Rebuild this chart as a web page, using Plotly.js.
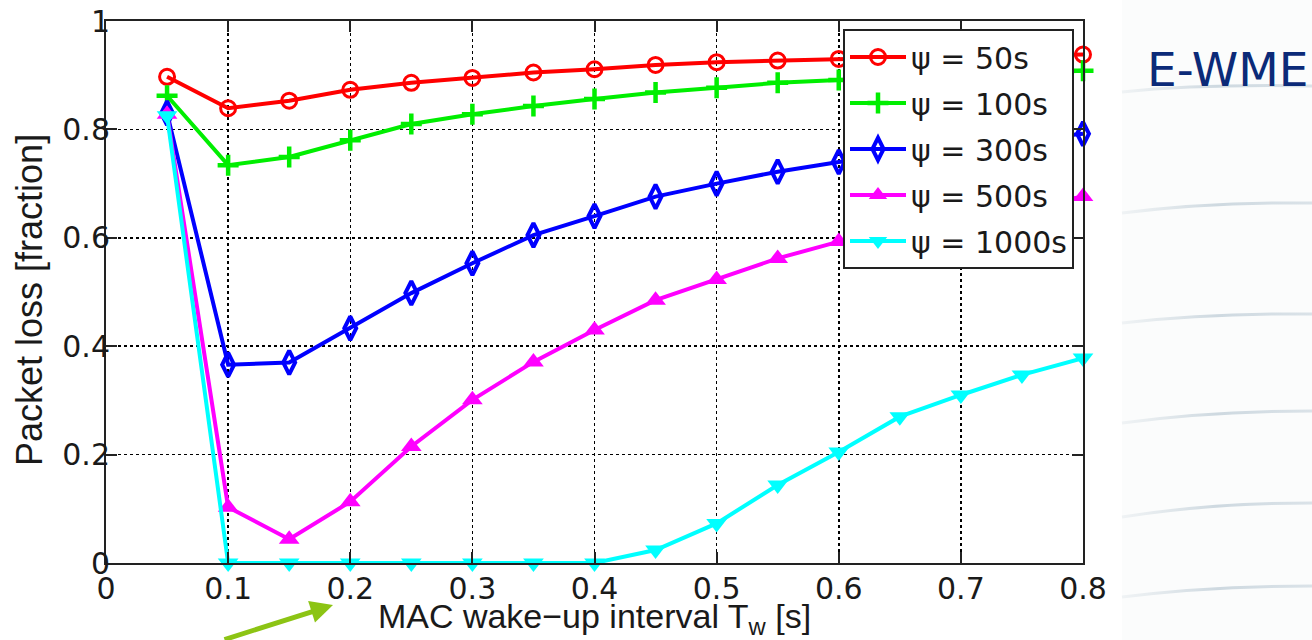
<!DOCTYPE html>
<html>
<head>
<meta charset="utf-8">
<script src="https://cdn.plot.ly/plotly-3.0.1.min.js"></script>
<style>
  html, body { margin: 0; padding: 0; background: #ffffff; }
  #wrap { position: relative; width: 1312px; height: 640px; overflow: hidden; }
  #bg { position: absolute; left: 0; top: 0; }
  #chart { position: absolute; left: 0; top: 0; width: 1312px; height: 640px; }
</style>
</head>
<body>
<div id="wrap">
<svg id="bg" width="1312" height="640">
  <defs>
    <linearGradient id="sw" x1="0" x2="1" y1="0" y2="0">
      <stop offset="0" stop-color="#d4dde3" stop-opacity="0.3"/>
      <stop offset="0.5" stop-color="#c9d5dd" stop-opacity="0.9"/>
      <stop offset="1" stop-color="#d2dce3" stop-opacity="0.8"/>
    </linearGradient>
  </defs>
  <rect x="1122" y="0" width="190" height="640" fill="#fbfcfc"/>
  <g fill="none" stroke="url(#sw)" stroke-width="3">
    <path d="M1122,92 Q1200,84 1312,86"/>
    <path d="M1122,213 Q1210,202 1312,203"/>
    <path d="M1122,323 Q1210,313 1312,314"/>
    <path d="M1122,423 Q1210,411 1312,411"/>
    <path d="M1122,517 Q1210,503 1312,503"/>
    <path d="M1122,597 Q1210,586 1312,586"/>
  </g>
</svg>
<div id="chart"></div>
</div>
<script>
const xVals = [0.05, 0.1, 0.15, 0.2, 0.25, 0.3, 0.35, 0.4, 0.45, 0.5, 0.55, 0.6, 0.65, 0.7, 0.75, 0.8];
const psi50   = [0.897, 0.839, 0.853, 0.873, 0.886, 0.895, 0.905, 0.911, 0.919, 0.924, 0.927, 0.930, 0.932, 0.934, 0.936, 0.938];
const psi100  = [0.862, 0.734, 0.749, 0.780, 0.810, 0.828, 0.843, 0.856, 0.868, 0.877, 0.886, 0.891, 0.895, 0.900, 0.904, 0.908];
const psi300  = [0.830, 0.366, 0.370, 0.433, 0.498, 0.553, 0.605, 0.640, 0.676, 0.700, 0.722, 0.740, 0.755, 0.768, 0.780, 0.792];
const psi500  = [0.828, 0.103, 0.044, 0.113, 0.215, 0.301, 0.371, 0.430, 0.485, 0.523, 0.562, 0.593, 0.615, 0.637, 0.657, 0.676];
const psi1000 = [0.825, 0.0, 0.0, 0.0, 0.0, 0.0, 0.0, 0.0, 0.024, 0.073, 0.144, 0.205, 0.270, 0.310, 0.347, 0.378];

const seriesNames = ['\u03c8 = 50s', '\u03c8 = 100s', '\u03c8 = 300s', '\u03c8 = 500s', '\u03c8 = 1000s'];
const xTicks = [0, 0.1, 0.2, 0.3, 0.4, 0.5, 0.6, 0.7, 0.8];
const xTickText = ['0', '0.1', '0.2', '0.3', '0.4', '0.5', '0.6', '0.7', '0.8'];
const yTicks = [0, 0.2, 0.4, 0.6, 0.8, 1];
const yTickText = ['0', '0.2', '0.4', '0.6', '0.8', '1'];
const xTitle = 'MAC wake\u2212up interval T<sub>w</sub> [s]';
const yTitle = 'Packet loss [fraction]';
const sideLabel = 'E-WME';

const styles = [
  {color: '#ff0000', symbol: 'circle-open', size: 15, lw: 3},
  {color: '#00ee00', symbol: 'cross-thin-open', size: 15, lw: 4.5},
  {color: '#0000ff', symbol: 'diamond-tall-open', size: 17, lw: 4},
  {color: '#ff00ff', symbol: 'triangle-up', size: 18, lw: 0},
  {color: '#00ffff', symbol: 'triangle-down', size: 18, lw: 0}
];
const allY = [psi50, psi100, psi300, psi500, psi1000];

const traces = allY.map((ys, i) => ({
  x: xVals,
  y: ys,
  name: seriesNames[i],
  legendgroup: 'g' + i,
  type: 'scatter',
  mode: 'lines+markers',
  cliponaxis: false,
  line: {color: styles[i].color, width: 4},
  marker: {
    symbol: styles[i].symbol,
    size: styles[i].size,
    color: styles[i].color,
    line: {color: styles[i].color, width: styles[i].lw}
  }
}));

const titleFont = '"Liberation Sans", Arial, sans-serif';
const numFont = '"DejaVu Sans", "Liberation Sans", sans-serif';
const L = 106, R = 229, T = 21, B = 77;
const W = 1312 - L - R, H = 640 - T - B;

const layout = {
  width: 1312,
  height: 640,
  margin: {l: L, r: R, t: T, b: B, pad: 0},
  paper_bgcolor: 'rgba(0,0,0,0)',
  plot_bgcolor: '#ffffff',
  font: {family: titleFont, color: '#1a1a1a', size: 30},
  showlegend: true,
  xaxis: {
    range: [0, 0.8],
    tickvals: xTicks,
    ticktext: xTickText,
    ticks: 'inside',
    ticklen: 11,
    tickwidth: 2,
    tickcolor: '#222',
    showline: true,
    linecolor: '#222',
    linewidth: 2,
    mirror: 'ticks',
    showgrid: true,
    gridcolor: '#000',
    gridwidth: 1.5,
    griddash: 'dot',
    zeroline: false,
    ticklabelstandoff: -2,
    tickfont: {family: numFont, size: 30, color: '#1a1a1a'},
    title: {
      text: xTitle,
      font: {family: titleFont, size: 34, color: '#1a1a1a'},
      standoff: 0
    }
  },
  yaxis: {
    range: [0, 1],
    tickvals: yTicks,
    ticktext: yTickText,
    ticks: 'inside',
    ticklen: 11,
    tickwidth: 2,
    tickcolor: '#222',
    showline: true,
    linecolor: '#222',
    linewidth: 2,
    mirror: 'ticks',
    showgrid: true,
    gridcolor: '#000',
    gridwidth: 1.5,
    griddash: 'dot',
    zeroline: false,
    ticklabelstandoff: -12,
    tickfont: {family: numFont, size: 30, color: '#1a1a1a'}
  },
  legend: {
    x: (843 - L) / W,
    y: (563 - 29) / H,
    xanchor: 'left',
    yanchor: 'top',
    bgcolor: '#ffffff',
    bordercolor: '#222',
    borderwidth: 2,
    traceorder: 'grouped',
    tracegroupgap: 4,
    font: {family: numFont, size: 30, color: '#1a1a1a'},
    itemwidth: 56
  },
  annotations: [
    {
      xref: 'paper', yref: 'paper',
      x: (29 - L) / W, y: (563 - 300) / H,
      xanchor: 'center', yanchor: 'middle',
      textangle: -90,
      text: yTitle,
      showarrow: false,
      font: {family: titleFont, size: 36, color: '#1a1a1a'}
    },
    {
      xref: 'paper', yref: 'paper',
      x: (1145 - L) / W, y: (563 - 69) / H,
      xanchor: 'left', yanchor: 'middle',
      text: sideLabel,
      showarrow: false,
      font: {family: '"DejaVu Sans", Verdana, sans-serif', size: 47, color: '#0b2a78'}
    },
    {
      xref: 'paper', yref: 'paper',
      x: (333 - L) / W, y: (563 - 605) / H,
      ax: -110, ay: 44,
      text: '',
      showarrow: true,
      arrowhead: 2,
      arrowsize: 0.9,
      arrowwidth: 5,
      arrowcolor: '#8cc414'
    }
  ]
};

Plotly.newPlot('chart', traces, layout, {displayModeBar: false, staticPlot: true});
</script>
</body>
</html>
